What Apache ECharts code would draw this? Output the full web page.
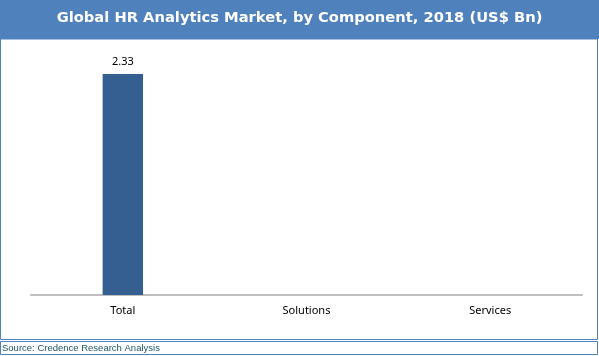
<!DOCTYPE html>
<html><head><meta charset="utf-8">
<script src="https://cdn.jsdelivr.net/npm/echarts@6/dist/echarts.min.js"></script>
<style>html,body{margin:0;padding:0;background:#fff}#c{width:599px;height:356px}</style>
</head><body><div id="c"></div>
<script>
var titleText = 'Global HR Analytics Market, by Component, 2018 (US$ Bn)';
var sourceText = 'Source: Credence Research Analysis';
var categories = ['Total', 'Solutions', 'Services'];
var values = [2.33, null, null];

var chart = echarts.init(document.getElementById('c'), null, {renderer: 'canvas'});
var blue = '#4F81BD';
chart.setOption({
  animation: false,
  backgroundColor: '#fff',
  title: {
    text: titleText, left: 'center', top: 6,
    textStyle: {color: '#fff', fontFamily: 'DejaVu Sans', fontWeight: 'bold', fontSize: 14.7}
  },
  graphic: [
    {type: 'rect', z: -1, shape: {x: 0, y: 0, width: 599, height: 39}, style: {fill: blue}},
    {type: 'rect', shape: {x: 0.5, y: 39, width: 597, height: 300.5}, style: {fill: null, stroke: blue, lineWidth: 1}},
    {type: 'rect', shape: {x: 0.5, y: 341.5, width: 597, height: 13}, style: {fill: null, stroke: blue, lineWidth: 1}},
    {type: 'text', left: 2, top: 343, style: {text: sourceText, fill: '#215868', font: '9.5px "Liberation Sans"'}}
  ],
  grid: {left: 31, right: 17, top: 58, bottom: 61},
  xAxis: {
    type: 'category', data: categories,
    axisLine: {lineStyle: {color: '#BFBFBF', width: 2}},
    axisTick: {show: false},
    axisLabel: {color: '#000', fontFamily: 'Noto Sans', fontSize: 11, margin: 10}
  },
  yAxis: {type: 'value', min: 0, max: 2.5, show: false, splitLine: {show: false}},
  series: [{
    type: 'bar', data: values, barWidth: '22%',
    itemStyle: {color: '#365F91'},
    label: {show: true, position: 'top', color: '#000', fontFamily: 'Noto Sans', fontSize: 11, distance: 7,
      formatter: function(p){ return p.value.toFixed(2); }}
  }]
});
</script></body></html>
